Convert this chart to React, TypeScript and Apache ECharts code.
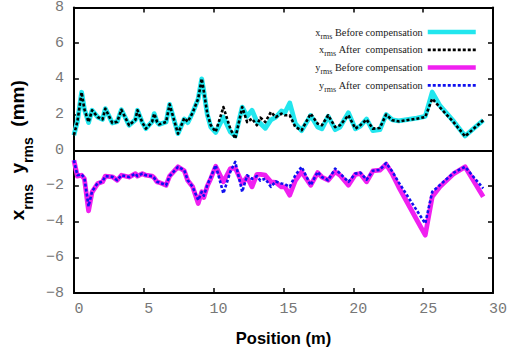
import React, { useEffect, useRef } from "react";
import * as echarts from "echarts";

// Position along the beam line (m)
const positions = [
  0.0, 0.25, 0.55, 0.75, 1.05, 1.3, 1.7, 2.05, 2.25, 2.75, 3.1, 3.4, 3.95, 4.4, 4.55, 4.9,
  5.15, 5.6, 5.75, 5.95, 6.1, 6.6, 6.85, 7.45, 7.9, 8.15, 8.5, 8.9, 9.15, 9.3, 9.55, 9.8,
  10.15, 10.7, 11.2, 11.55, 12.05, 12.4, 12.75, 13.1, 13.35, 13.7, 14.1, 14.45, 14.85, 15.1,
  15.45, 15.85, 16.3, 16.95, 17.45, 17.75, 18.2, 18.7, 19.05, 19.65, 20.15, 20.5, 20.95, 21.4,
  21.9, 22.35, 22.8, 23.25, 24.55, 25.15, 25.65, 26.2, 27.2, 28.0, 29.3,
];

// x_rms before compensation (mm)
const xBefore = [
  0.85, 1.6, 3.25, 2.3, 1.55, 2.24, 1.86, 1.73, 2.33, 1.53, 1.6, 2.27, 1.4, 1.7, 2.24, 1.55,
  1.21, 1.6, 2.05, 1.6, 1.45, 1.58, 2.57, 0.93, 1.75, 1.55, 2.1, 2.9, 4.0, 3.3, 2.0, 1.3,
  1.0, 1.86, 1.03, 0.8, 2.42, 1.9, 2.24, 1.6, 1.5, 1.23, 1.7, 1.85, 2.2, 2.1,
  2.65, 1.5, 1.1, 1.95, 1.3, 1.2, 1.9, 1.15, 1.3, 2.1, 1.2, 1.35, 1.75, 1.1,
  1.15, 2.0, 1.7, 1.65, 1.8, 1.9, 3.26, 2.5, 1.6, 0.8, 1.68,
];

// x_rms after compensation (mm)
const xAfter = [
  0.85, 1.6, 3.25, 2.3, 1.58, 2.24, 1.86, 1.73, 2.33, 1.53, 1.6, 2.27, 1.4, 1.7, 2.24, 1.55,
  1.21, 1.6, 2.05, 1.6, 1.45, 1.58, 2.57, 0.93, 1.8, 1.6, 2.1, 2.9, 4.01, 3.3, 2.05, 1.4,
  1.03, 2.42, 1.2, 0.65, 2.42, 1.58, 1.77, 1.4, 1.83, 1.58, 2.14, 1.86, 2.05, 1.96,
  1.96, 1.3, 1.12, 2.05, 1.49, 1.4, 1.96, 1.3, 1.4, 1.96, 1.21, 1.4, 1.72, 1.21,
  1.25, 2.0, 1.68, 1.62, 1.77, 1.86, 2.89, 2.4, 1.55, 0.78, 1.68,
];

// y_rms before compensation (plotted negative, mm)
const yBefore = [
  -0.56, -1.45, -1.4, -1.6, -3.4, -2.35, -1.87, -1.77, -1.45, -1.49, -1.68, -1.4, -1.5, -1.31, -1.45, -1.31,
  -1.4, -1.45, -1.55, -1.77, -1.8, -1.96, -1.45, -0.93, -1.15, -1.7, -2.05, -2.98, -2.33, -2.65, -2.0, -1.58,
  -0.9, -1.77, -1.03, -1.0, -1.85, -1.5, -2.05, -1.35, -1.35, -1.4, -1.77, -1.8, -2.05, -2.05,
  -2.52, -1.7, -1.21, -1.96, -1.25, -1.5, -1.68, -1.2, -1.4, -1.96, -1.35, -1.31, -1.77, -1.16,
  -1.12, -0.78, -1.35, -2.06, -3.91, -4.76, -2.61, -2.05, -1.31, -0.93, -2.61,
];

// y_rms after compensation (plotted negative, mm)
const yAfter = [
  -0.56, -1.4, -1.35, -1.55, -3.15, -2.3, -1.85, -1.75, -1.45, -1.49, -1.68, -1.4, -1.5, -1.31, -1.45, -1.31,
  -1.4, -1.45, -1.55, -1.77, -1.8, -1.96, -1.45, -0.93, -1.12, -1.68, -2.05, -2.8, -2.33, -2.55, -1.95, -1.5,
  -0.84, -2.42, -1.2, -0.65, -2.33, -1.4, -1.6, -1.45, -1.7, -1.6, -2.05, -1.75, -1.86, -1.9,
  -2.05, -1.4, -0.93, -1.96, -1.21, -1.5, -1.68, -1.03, -1.3, -1.77, -1.31, -1.25, -1.65, -1.15,
  -1.1, -0.72, -1.2, -1.8, -3.38, -4.1, -2.33, -1.95, -1.25, -0.93, -2.14,
];

const seriesNames = [
  "x_rms Before compensation",
  "x_rms After  compensation",
  "y_rms Before compensation",
  "y_rms After  compensation",
];
const seriesColors = ["#22e6ee", "#000000", "#f020f0", "#1010f0"];

const pairs = (vals: number[]) => positions.map((p, i) => [p, vals[i]]);

export default function App() {
  const ref = useRef<HTMLDivElement>(null);
  useEffect(() => {
    if (!ref.current) return;
    const chart = echarts.init(ref.current, null, { renderer: "svg" });
    const tickFont = {
      fontFamily: "Liberation Mono",
      fontSize: 15,
      color: "#777",
    };
    const minus = (v: number) => String(v).replace("-", "\u2212");
    const axisLine = { show: true, lineStyle: { color: "#000", width: 2 } };
    const axisTick = { show: true, inside: true, length: 5, lineStyle: { color: "#000", width: 1.5 } };
    const solidLine = (w: number) => ({ width: w, type: "solid" as const });
    const dotted = { width: 2.6, type: [3, 2] as number[] };
    const data = [xBefore, xAfter, yBefore, yAfter];
    const styles = [solidLine(4.8), dotted, solidLine(4.8), dotted];
    chart.setOption({
      animation: false,
      backgroundColor: "#fff",
      grid: { left: 73, right: 22, top: 7, bottom: 58, containLabel: false },
      legend: {
        orient: "vertical",
        right: 32,
        top: 22,
        align: "right",
        itemWidth: 48,
        itemHeight: 10,
        itemGap: 4.8,
        selectedMode: false,
        data: seriesNames.map((n, i) => ({
          name: n,
          lineStyle: { color: seriesColors[i], ...styles[i], width: i % 2 === 0 ? 4.5 : 2.8 },
        })),
        itemStyle: { opacity: 0 },
        formatter: (name: string) => {
          const axis = name.charAt(0);
          const rest = name.slice(5);
          return `{m|${axis}}{s|rms}{m|${rest}}`;
        },
        textStyle: {
          fontFamily: "Liberation Serif",
          fontSize: 10,
          color: "#1a1a1a",
          rich: {
            m: { fontFamily: "Liberation Serif", fontSize: 10.3, color: "#1a1a1a", lineHeight: 16 },
            s: { fontFamily: "Liberation Serif", fontSize: 8, color: "#1a1a1a", lineHeight: 8, verticalAlign: "bottom" },
          },
        },
      },
      xAxis: [
        {
          type: "value",
          min: 0,
          max: 30,
          interval: 5,
          position: "bottom",
          axisLine: { ...axisLine, onZero: false },
          axisTick,
          splitLine: { show: false },
          axisLabel: { ...tickFont, margin: 9, padding: [0, 0, 0, 10] },
          name: "Position (m)",
          nameLocation: "middle",
          nameGap: 36,
          nameTextStyle: { fontFamily: "Liberation Sans", fontWeight: "bold", fontSize: 16.5, color: "#000" },
        },
        {
          type: "value",
          min: 0,
          max: 30,
          interval: 5,
          position: "top",
          axisLine: { ...axisLine, onZero: false },
          axisTick,
          splitLine: { show: false },
          axisLabel: { show: false },
        },
      ],
      yAxis: [
        {
          type: "value",
          min: -8,
          max: 8,
          interval: 2,
          position: "left",
          axisLine: { ...axisLine, onZero: false },
          axisTick,
          splitLine: { show: false },
          axisLabel: { ...tickFont, margin: 10, formatter: minus },
          name: "{m|x}{s|rms}{m|  y}{s|rms}{m|  (mm)}",
          nameLocation: "middle",
          nameRotate: 90,
          nameGap: 35,
          nameTextStyle: {
            rich: {
              m: { fontFamily: "Liberation Sans", fontWeight: "bold", fontSize: 19, color: "#000", lineHeight: 35 },
              s: { fontFamily: "Liberation Sans", fontWeight: "bold", fontSize: 14, color: "#000", lineHeight: 14, verticalAlign: "bottom" },
            },
          },
        },
        {
          type: "value",
          min: -8,
          max: 8,
          interval: 2,
          position: "right",
          axisLine: { ...axisLine, onZero: false },
          axisTick,
          splitLine: { show: false },
          axisLabel: { show: false },
        },
      ],
      series: data.map((vals, i) => ({
        name: seriesNames[i],
        type: "line",
        data: pairs(vals),
        symbol: "none",
        color: seriesColors[i],
        lineStyle: { color: seriesColors[i], ...styles[i], join: "round" },
        z: 2 + i,
        markLine:
          i === 0
            ? {
                silent: true,
                symbol: "none",
                label: { show: false },
                lineStyle: { color: "#000", width: 2, type: "solid" },
                data: [{ yAxis: 0 }],
              }
            : undefined,
      })),
    });
    return () => chart.dispose();
  }, []);
  return (
    <div
      ref={ref}
      style={{ position: "fixed", left: 0, top: 0, width: 515, height: 351, background: "#fff" }}
    />
  );
}
